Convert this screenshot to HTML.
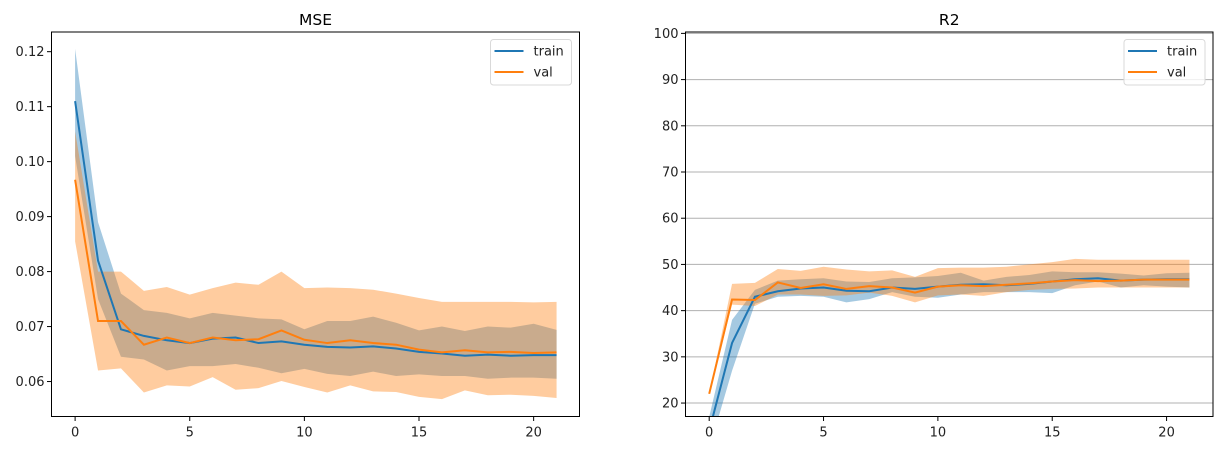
<!DOCTYPE html>
<html><head><meta charset="utf-8"><style>
body{margin:0;background:#fff;}
svg{display:block;font-family:"DejaVu Sans","Liberation Sans",sans-serif;}
</style></head><body>
<svg id="fig" width="1223" height="451" viewBox="0 0 1223 451"></svg>
<script>
const epochs = [0,1,2,3,4,5,6,7,8,9,10,11,12,13,14,15,16,17,18,19,20,21];
const mseTrain = [0.111,0.082,0.0695,0.0683,0.0675,0.067,0.0678,0.068,0.067,0.0673,0.0667,0.0663,0.0662,0.0664,0.066,0.0654,0.0651,0.0647,0.0649,0.0647,0.0648,0.0648];
const mseTrainHi = [0.1205,0.089,0.076,0.073,0.0725,0.0715,0.0725,0.072,0.0715,0.0713,0.0695,0.071,0.071,0.0718,0.0707,0.0693,0.070,0.0692,0.070,0.0698,0.0705,0.0694];
const mseTrainLo = [0.101,0.075,0.0645,0.064,0.062,0.0628,0.0628,0.0632,0.0625,0.0615,0.0623,0.0614,0.061,0.0618,0.061,0.0613,0.061,0.061,0.0605,0.0607,0.0607,0.0605];
const mseVal = [0.0967,0.071,0.071,0.0667,0.068,0.067,0.068,0.0675,0.0677,0.0693,0.0676,0.067,0.0675,0.067,0.0667,0.0658,0.0653,0.0657,0.0653,0.0654,0.0652,0.0653];
const mseValHi = [0.1055,0.080,0.080,0.0765,0.0772,0.0758,0.077,0.078,0.0776,0.080,0.077,0.0771,0.077,0.0767,0.076,0.0752,0.0745,0.0745,0.0745,0.0745,0.0744,0.0745];
const mseValLo = [0.0855,0.062,0.0624,0.058,0.0593,0.0591,0.0608,0.0585,0.0588,0.0601,0.059,0.058,0.0593,0.0582,0.0581,0.0572,0.0568,0.0584,0.0575,0.0576,0.0574,0.057];
const r2Train = [14,33,43,44.2,44.8,45,44.3,44.2,45,44.7,45.2,45.6,45.7,45.5,45.8,46.3,46.8,47,46.5,46.7,46.8,46.8];
const r2TrainHi = [17,38,44.5,46.5,46.8,47,46.3,46.2,47,47.2,47.5,48.2,46.5,47.3,47.7,48.5,48.3,48.3,48,47.6,48.1,48.2];
const r2TrainLo = [10,27,41.5,43,43.2,43,41.8,42.5,44,43,42.8,43.5,44,44,44,43.8,45.5,46.3,45,45.5,45.2,45];
const r2Val = [22,42.4,42.3,46.1,44.9,45.7,44.7,45.3,45,43.9,45.2,45.5,45.3,45.6,45.9,46.3,46.6,46.4,46.5,46.7,46.7,46.7];
const r2ValHi = [22,45.8,46,49,48.6,49.5,48.9,48.5,48.7,47.3,49.2,49.3,49.3,49.5,50,50.5,51.2,51,51,51,51,51];
const r2ValLo = [22,41.3,41,43.5,43.5,43.2,43.3,43.9,43.2,41.8,43.3,43.5,43.2,44,44.5,44.7,44.8,45,45,45,45,45];
const xTicks = [0,5,10,15,20];
const mseTicks = [0.06,0.07,0.08,0.09,0.10,0.11,0.12];
const r2Ticks = [20,30,40,50,60,70,80,90,100];

const NS="http://www.w3.org/2000/svg";
const svg=document.getElementById('fig');
function mk(tag,attrs,parent){const e=document.createElementNS(NS,tag);for(const k in attrs)e.setAttribute(k,attrs[k]);(parent||svg).appendChild(e);return e;}

function panel(o){
  const g=mk('g',{});
  
  
  const X=v=>o.x0+(v-o.xmin)*(o.x1-o.x0)/(o.xmax-o.xmin);
  const Y=v=>o.y1-(v-o.ymin)*(o.y1-o.y0)/(o.ymax-o.ymin);
  const cid='clip-'+o.name;
  const cp=mk('clipPath',{id:cid},g);mk('rect',{x:o.x0,y:o.y0,width:o.x1-o.x0,height:o.y1-o.y0},cp);
  if(o.grid){o.yt.forEach(t=>{const l=mk('line',{x1:o.x0,x2:o.x1,y1:Y(t),y2:Y(t),stroke:'#b0b0b0','stroke-width':1},g);});}
  const d=mk('g',{'clip-path':`url(#${cid})`},g);
  function band(hi,lo,col,op,nm){
    let p='M'+epochs.map((e,i)=>X(e)+','+Y(hi[i])).join('L');
    p+='L'+epochs.slice().reverse().map((e,j)=>{const i=epochs.length-1-j;return X(e)+','+Y(lo[i]);}).join('L')+'Z';
    const el=mk('path',{d:p,fill:col,'fill-opacity':op,stroke:'none'},d);
    
  }
  function line(v,col,nm){
    const el=mk('polyline',{points:epochs.map((e,i)=>X(e)+','+Y(v[i])).join(' '),fill:'none',stroke:col,'stroke-width':2},d);
    
  }
  band(o.trHi,o.trLo,'#1f77b4',0.4,'train-band');
  band(o.vaHi,o.vaLo,'#ff7f0e',0.4,'val-band');
  line(o.tr,'#1f77b4','train-line');
  line(o.va,'#ff7f0e','val-line');
  mk('rect',{x:o.x0,y:o.y0,width:o.x1-o.x0,height:o.y1-o.y0,fill:'none',stroke:'#000','stroke-width':1},g);
  xTicks.forEach(t=>{mk('line',{x1:X(t),x2:X(t),y1:o.y1,y2:o.y1+4.5,stroke:'#000'},g);
    const tx=mk('text',{x:X(t),y:o.y1+20,'text-anchor':'middle','font-size':13,fill:'#222'},g);tx.textContent=t;
    });
  o.yt.forEach(t=>{mk('line',{x1:o.x0-4.5,x2:o.x0,y1:Y(t),y2:Y(t),stroke:'#000'},g);
    const tx=mk('text',{x:o.x0-7,y:Y(t)+4.5,'text-anchor':'end','font-size':13,fill:'#222'},g);tx.textContent=o.fmt(t);
    });
  const ti=mk('text',{x:(o.x0+o.x1)/2,y:o.y0-7,'text-anchor':'middle','font-size':15.5,fill:'#000'},g);ti.textContent=o.title;
  
  const lg=mk('g',{},g);
  const lx=o.x1-89;
  mk('rect',{x:lx,y:39.5,width:81,height:45.5,rx:3,fill:'#fff','fill-opacity':0.8,stroke:'#d9d9d9'},lg);
  [['train','#1f77b4',51],['val','#ff7f0e',72]].forEach(([n,c,yy])=>{
    const e=mk('g',{},lg);
    mk('line',{x1:lx+4,x2:lx+33,y1:yy,y2:yy,stroke:c,'stroke-width':2},e);
    const t=mk('text',{x:lx+43,y:yy+4.5,'font-size':13,fill:'#222'},e);t.textContent=n;
  });
}
panel({name:'mse-chart',title:'MSE',x0:51.5,x1:579.5,y0:32,y1:416.5,xmin:-1.0297,xmax:22.0,ymin:0.05364,ymax:0.12358,
  yt:mseTicks,fmt:t=>t.toFixed(2),grid:false,tr:mseTrain,trHi:mseTrainHi,trLo:mseTrainLo,va:mseVal,vaHi:mseValHi,vaLo:mseValLo});
panel({name:'r2-chart',title:'R2',x0:685.5,x1:1213,y0:32,y1:416.5,xmin:-1.036,xmax:22.03,ymin:17.09,ymax:100.3,
  yt:r2Ticks,fmt:t=>t,grid:true,tr:r2Train,trHi:r2TrainHi,trLo:r2TrainLo,va:r2Val,vaHi:r2ValHi,vaLo:r2ValLo});
</script>
</body></html>
